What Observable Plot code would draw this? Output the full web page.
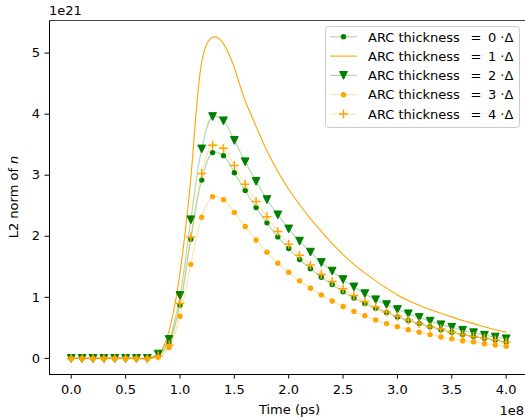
<!DOCTYPE html>
<html><head><meta charset="utf-8">
<script src="https://cdn.jsdelivr.net/npm/d3@7"></script>
<script src="https://cdn.jsdelivr.net/npm/@observablehq/plot@0.6"></script>
<style>
body{margin:0;background:#fff;}
#chart{width:525px;height:420px;}
</style></head><body><div id="chart"></div>
<script>
// time in units of 1e8 ps, values in units of 1e21
const time = [0.0,0.1,0.2,0.3,0.4,0.5,0.6,0.7,0.8,0.9,1.0,1.1,1.2,1.3,1.4,1.5,1.6,1.7,1.8,1.9,2.0,2.1,2.2,2.3,2.4,2.5,2.6,2.7,2.8,2.9,3.0,3.1,3.2,3.3,3.4,3.5,3.6,3.7,3.8,3.9,4.0];
const arc0 = [0,0,0,0,0,0,0,0,0.04,0.27,0.87,1.95,2.92,3.37,3.32,3.04,2.75,2.47,2.22,1.99,1.80,1.62,1.47,1.33,1.21,1.09,0.99,0.90,0.82,0.75,0.68,0.62,0.57,0.52,0.47,0.43,0.39,0.36,0.33,0.30,0.27];
const arc2 = [0,0,0,0,0,0,0,0,0.07,0.31,1.03,2.27,3.43,3.96,3.89,3.57,3.22,2.90,2.60,2.35,2.12,1.92,1.74,1.57,1.43,1.29,1.17,1.06,0.96,0.88,0.80,0.73,0.67,0.61,0.55,0.51,0.46,0.42,0.38,0.35,0.32];
const arc3 = [0,0,0,0,0,0,0,0,0.02,0.18,0.69,1.54,2.31,2.65,2.60,2.39,2.16,1.94,1.74,1.56,1.41,1.27,1.15,1.04,0.94,0.85,0.77,0.70,0.63,0.57,0.52,0.47,0.43,0.39,0.35,0.32,0.29,0.27,0.24,0.22,0.20];
const arc4 = [0,0,0,0,0,0,0,0,0.04,0.22,0.90,1.99,3.03,3.49,3.44,3.16,2.85,2.57,2.32,2.08,1.87,1.69,1.53,1.38,1.26,1.14,1.03,0.93,0.84,0.76,0.69,0.63,0.57,0.52,0.48,0.43,0.39,0.36,0.33,0.30,0.27];
const time1 = [0.0,0.1,0.2,0.3,0.4,0.5,0.6,0.7,0.8,0.85,0.9,0.95,1.0,1.05,1.1,1.15,1.2,1.25,1.3,1.35,1.4,1.45,1.5,1.55,1.6,1.7,1.8,1.9,2.0,2.1,2.2,2.3,2.4,2.5,2.6,2.7,2.8,2.9,3.0,3.1,3.2,3.3,3.4,3.5,3.6,3.7,3.8,3.9,4.0];
const arc1 = [0,0,0,0,0,0,0,0,0.06,0.2,0.45,0.85,1.4,2.1,2.95,4.05,4.85,5.16,5.26,5.25,5.15,4.98,4.76,4.48,4.22,3.80,3.40,3.06,2.77,2.52,2.29,2.08,1.88,1.70,1.54,1.40,1.27,1.15,1.04,0.95,0.87,0.80,0.74,0.68,0.62,0.57,0.52,0.47,0.43];
const seriesLabels = ["0","1","2","3","4"];
const xTicks = [0,0.5,1,1.5,2,2.5,3,3.5,4];
const yTicks = [0,1,2,3,4,5];

const triDown = {draw(ctx, size){const r=Math.sqrt(size/Math.PI); ctx.moveTo(0,r); ctx.lineTo(-r,-r); ctx.lineTo(r,-r); ctx.closePath();}};
const plusSym = {draw(ctx, size){const r=Math.sqrt(size/Math.PI); ctx.moveTo(-r,0); ctx.lineTo(r,0); ctx.moveTo(0,-r); ctx.lineTo(0,r);}};

const GREEN = "green", ORANGE = "orange";
const LGREEN = "rgba(0,128,0,0.3)", LORANGE = "rgba(255,165,0,0.3)";
const defs = [
  {t: time, values: arc0, line: LGREEN, lw: 1.2, marker: "circle", color: GREEN, r: 2.7},
  {t: time1, values: arc1, line: ORANGE, lw: 1.1, marker: null},
  {t: time, values: arc2, line: LGREEN, lw: 1.2, marker: triDown, color: GREEN, r: 3.9},
  {t: time, values: arc3, line: LORANGE, lw: 1.2, marker: "circle", color: ORANGE, r: 2.7},
  {t: time, values: arc4, line: LORANGE, lw: 1.2, marker: plusSym, color: ORANGE, r: 4.5, plus: true}
];

const marks = [];
defs.forEach((d) => {
  const data = d.t.map((t, i) => ({t, v: d.values[i]}));
  marks.push(Plot.line(data, {x: "t", y: "v", stroke: d.line, strokeWidth: d.lw, curve: "catmull-rom"}));
  if (d.marker) {
    if (d.plus) marks.push(Plot.dot(data, {x: "t", y: "v", symbol: d.marker, r: d.r, stroke: d.color, strokeWidth: 1.5, fill: "none"}));
    else if (d.marker === triDown) marks.push(Plot.dot(data, {x: "t", y: "v", symbol: d.marker, r: d.r, fill: d.color, stroke: d.color, strokeWidth: 1}));
    else marks.push(Plot.dot(data, {x: "t", y: "v", symbol: d.marker, r: d.r, fill: d.color, stroke: "none"}));
  }
});

const FS = 13;
const chart = Plot.plot({
  width: 525, height: 420,
  marginLeft: 49, marginRight: 0, marginTop: 20, marginBottom: 46,
  style: {fontFamily: "DejaVu Sans", fontSize: FS + "px", color: "black", background: "white"},
  x: {domain: [-0.2, 4.2], range: [49, 527.4]},
  y: {domain: [-0.2635, 5.5335]},
  marks: [
    ...marks,
    Plot.ruleX([-0.2], {stroke: "black", strokeWidth: 1}),
    Plot.ruleY([-0.2635], {stroke: "black", strokeWidth: 1}),
    Plot.ruleY([5.5335], {stroke: "#444", strokeWidth: 1}),
    Plot.axisX({ticks: xTicks, tickFormat: (d) => d.toFixed(1), tickSize: 4.5, tickPadding: 6, label: null}),
    Plot.axisY({ticks: yTicks, tickFormat: (d) => String(d), tickSize: 4.5, tickPadding: 5, label: null})
  ]
});
document.getElementById("chart").appendChild(chart);

const svg = d3.select(chart);
const ff = "DejaVu Sans";
function txt(x, y, anchor, s) {
  return svg.append("text").attr("x", x).attr("y", y).attr("text-anchor", anchor)
    .attr("font-family", ff).attr("font-size", FS).attr("fill", "black").text(s);
}
txt(289.5, 414, "middle", "Time (ps)");
txt(524, 414.5, "end", "1e8");
txt(49, 15, "start", "1e21");
const yl = svg.append("text").attr("transform", "translate(18,197) rotate(-90)").attr("text-anchor", "middle")
  .attr("font-family", ff).attr("font-size", FS).attr("fill", "black");
yl.append("tspan").text("L2 norm of ");
yl.append("tspan").attr("font-style", "italic").text("n");

// legend
const lg = svg.append("g");
lg.append("rect").attr("x", 325.5).attr("y", 26.5).attr("width", 194).attr("height", 101).attr("rx", 3)
  .attr("fill", "white").attr("fill-opacity", 0.8).attr("stroke", "#cccccc").attr("stroke-width", 1);
const rowY = [36.8, 56.1, 75.4, 94.7, 114.0];
defs.forEach((d, i) => {
  const y = rowY[i];
  lg.append("line").attr("x1", 330).attr("x2", 357).attr("y1", y).attr("y2", y)
    .attr("stroke", d.line).attr("stroke-width", d.lw);
  const cx = 343.5;
  if (d.marker === "circle") lg.append("circle").attr("cx", cx).attr("cy", y).attr("r", d.r).attr("fill", d.color);
  else if (d.marker === triDown) lg.append("path").attr("transform", `translate(${cx},${y})`)
    .attr("d", d3.symbol(triDown, d.r * d.r * Math.PI)()).attr("fill", d.color).attr("stroke", d.color);
  else if (d.plus) lg.append("path").attr("transform", `translate(${cx},${y})`)
    .attr("d", d3.symbol(plusSym, d.r * d.r * Math.PI)()).attr("fill", "none").attr("stroke", d.color).attr("stroke-width", 1.5);
  lg.append("text").attr("x", 368).attr("y", y + 4.7).attr("text-anchor", "start")
    .attr("font-family", ff).attr("font-size", FS).attr("fill", "black").attr("xml:space", "preserve")
    .text("ARC thickness \u2002=\u2002" + seriesLabels[i] + " \u00b7\u0394");
});
</script></body></html>
